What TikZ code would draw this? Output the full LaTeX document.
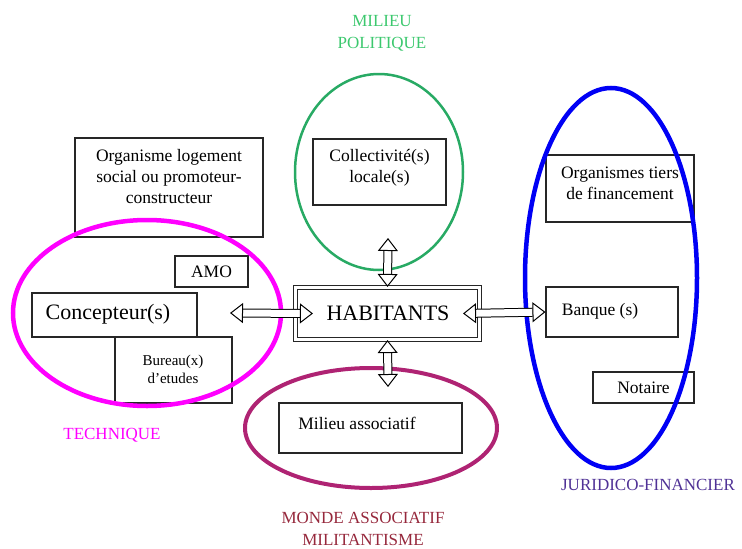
\documentclass[tikz,border=0pt]{standalone}
\usepackage{fontspec}
\setmainfont{Liberation Serif}
\usetikzlibrary{arrows.meta}
\definecolor{vertpol}{RGB}{40,170,100}
\definecolor{vertlbl}{RGB}{60,200,110}
\definecolor{magtech}{RGB}{255,0,255}
\definecolor{mauveassoc}{RGB}{175,35,115}
\definecolor{rougeassoc}{RGB}{150,40,60}
\definecolor{bleujuri}{RGB}{0,0,245}
\definecolor{bleulbl}{RGB}{80,50,150}
\tikzset{
    boite/.style={
        rectangle,
        draw=black!85, % cadre gris fonce
        line width=1.1pt,
        inner sep=0
    },
    texte/.style={
        align=center,
        inner sep=0,
        font=\fontsize{17.5}{21}\selectfont
    },
    titre/.style={
        align=center,
        inner sep=0,
        font=\fontsize{17}{22}\selectfont
    },
    fleche/.style={
        line width=1pt,
        double=white, % fleche creuse
        double distance=7pt,
        {Triangle[open,fill=white,line width=1pt,width=20pt,length=13pt]}-{Triangle[open,fill=white,line width=1pt,width=20pt,length=13pt]}
    }
}

\begin{document}
\begin{tikzpicture}[x=1pt,y=-1pt]
            \useasboundingbox (0,0) rectangle (742,549);
            % les boites
            \node[boite, minimum width=188, minimum height=99] (orga) at (169,187.5) {};
            \node[texte] (orgatxt) at (169,177) {Organisme logement\\social ou promoteur-\\constructeur};
            \node[boite, minimum width=133, minimum height=66] (collec) at (379.5,172) {};
            \node[texte] (collectxt) at (379.5,168) {Collectivité(s)\\locale(s)};
            \node[boite, minimum width=73, minimum height=31] (amo) at (211.5,271.5) {};
            \node[texte] (amotxt) at (amo) {AMO};
            \node[boite, minimum width=165, minimum height=44] (concep) at (114.5,315) {};
            \node[texte, font=\fontsize{22}{24}\selectfont] (conceptxt) at (108,314) {Concepteur(s)};
            \node[boite, minimum width=117, minimum height=66] (bureau) at (173.5,370) {};
            \node[texte, font=\fontsize{15}{18}\selectfont] (bureautxt) at (173,369) {Bureau(x)\\d'etudes};
            \node[boite, double, double distance=2.6pt, minimum width=184, minimum height=52] (hab) at (387.5,313.5) {};
            \node[texte, font=\fontsize{22}{24}\selectfont] (habtxt) at (388,313) {HABITANTS};
            \node[boite, minimum width=183, minimum height=50] (assoc) at (370.5,428) {};
            \node[texte] (assoctxt) at (357,423) {Milieu associatif};
            \node[boite, minimum width=148, minimum height=67] (tiers) at (620,188.5) {};
            \node[texte] (tierstxt) at (620,183) {Organismes tiers\\de financement};
            \node[boite, minimum width=132, minimum height=50] (banque) at (612,312) {};
            \node[texte] (banquetxt) at (600,311) {Banque (s)};
            \node[boite, minimum width=101, minimum height=31] (notaire) at (643.5,387.5) {};
            \node[texte] (notairetxt) at (notaire) {Notaire};
            % les milieux
            \draw[vertpol, line width=2.5pt] (379,172) ellipse [x radius=84, y radius=98];
            \draw[magtech, line width=4.5pt] (147,313) ellipse [x radius=134, y radius=93];
            \draw[mauveassoc, line width=4pt] (371,428) ellipse [x radius=126, y radius=60];
            \draw[bleujuri, line width=4.5pt] (611,278) ellipse [x radius=86, y radius=190];
            \node[titre, text=vertlbl] (politique) at (382,33) {MILIEU\\POLITIQUE};
            \node[titre, text=magtech] (technique) at (112,435) {TECHNIQUE};
            \node[titre, text=rougeassoc] (monde) at (363,529) {MONDE ASSOCIATIF\\MILITANTISME};
            \node[titre, text=bleulbl] (juridico) at (648,485) {JURIDICO-FINANCIER};
            % les fleches
            \coordinate (gauche) at (230,313);
            \coordinate (haut) at (388,238);
            \coordinate (bas) at (388,387);
            \draw[fleche] (gauche) -- ([xshift=18pt]hab.west);
            \draw[fleche] ([xshift=-17pt]hab.east) -- (banque.west);
            \draw[fleche] (haut) -- (hab.north);
            \draw[fleche] (hab.south) -- (bas);
\end{tikzpicture}
\end{document}
